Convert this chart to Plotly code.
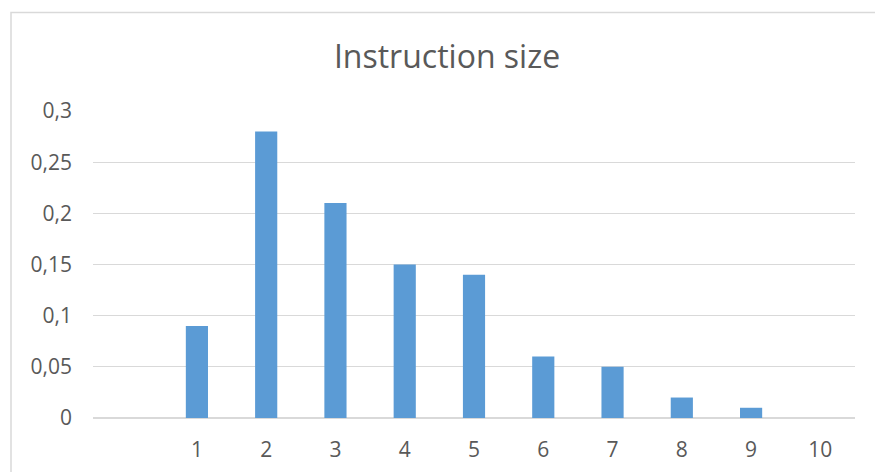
import plotly.graph_objects as go

# Share of instructions by size (in bytes)
sizes = [1, 2, 3, 4, 5, 6, 7, 8, 9, 10]
shares = [0.09, 0.28, 0.21, 0.15, 0.14, 0.06, 0.05, 0.02, 0.01, 0.0]
x_tick_labels = ["1", "2", "3", "4", "5", "6", "7", "8", "9", "10"]
y_tick_values = [0, 0.05, 0.1, 0.15, 0.2, 0.25, 0.3]
y_tick_labels = ["0", "0,05", "0,1", "0,15", "0,2", "0,25", "0,3"]

TEXT = "#595959"
GRID = "#D9D9D9"
FONT = "Open Sans"

fig = go.Figure(
    go.Bar(
        x=sizes,
        y=shares,
        width=0.32,
        marker=dict(color="#5B9BD5", line=dict(width=0)),
        hoverinfo="x+y",
    )
)

fig.update_layout(
    width=875,
    height=472,
    margin=dict(l=93, r=20, t=111, b=54),
    paper_bgcolor="white",
    plot_bgcolor="white",
    showlegend=False,
    font=dict(family=FONT, color=TEXT, size=21),
    title=dict(
        text="Instruction size",
        font=dict(family=FONT, size=32, color=TEXT),
        x=447 / 875,
        xref="container",
        xanchor="center",
        y=1 - 57 / 472,
        yref="container",
        yanchor="middle",
    ),
    xaxis=dict(
        range=[-0.5, 10.5],
        tickvals=sizes,
        ticktext=x_tick_labels,
        showgrid=False,
        zeroline=False,
        showline=False,
        ticks="",
        ticklabelstandoff=17,
        tickfont=dict(size=21, color=TEXT),
        automargin=False,
        fixedrange=True,
    ),
    yaxis=dict(
        range=[0, 0.3],
        tickvals=y_tick_values,
        ticktext=y_tick_labels,
        showgrid=True,
        gridcolor=GRID,
        gridwidth=1,
        zeroline=True,
        zerolinecolor=GRID,
        zerolinewidth=1.5,
        showline=False,
        ticks="",
        ticklabelstandoff=20,
        tickfont=dict(size=21, color=TEXT),
        automargin=False,
        fixedrange=True,
    ),
    shapes=[
        # light frame around the chart area
        dict(
            type="rect",
            xref="paper",
            yref="paper",
            x0=(11 - 93) / 762,
            x1=(900 - 93) / 762,
            y0=(418 - 500) / 307,
            y1=(418 - 12.5) / 307,
            line=dict(color=GRID, width=1.5),
            fillcolor="rgba(0,0,0,0)",
            layer="below",
        )
    ],
)

fig.write_html("out.html")
